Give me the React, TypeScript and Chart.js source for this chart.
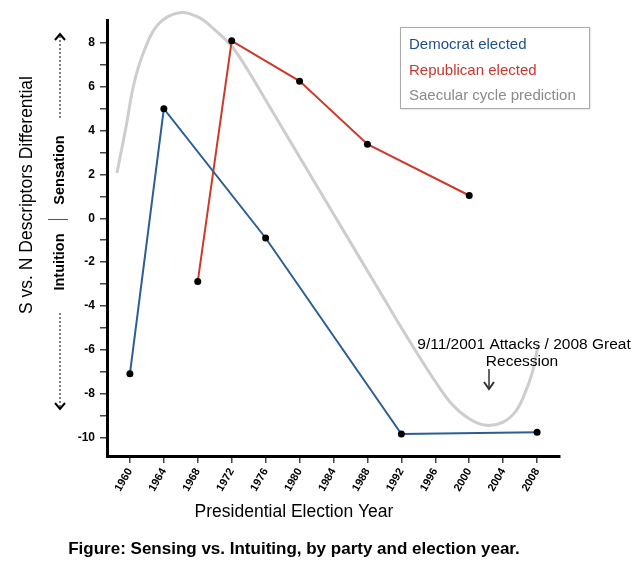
import React, { useEffect, useRef } from "react";
import { Chart, registerables } from "chart.js";

Chart.register(...registerables);

const demYears = [1960, 1964, 1976, 1992, 2008];
const demValues = [-7.1, 5.0, -0.9, -9.85, -9.77];
const repYears = [1968, 1972, 1980, 1988, 2000];
const repValues = [-2.88, 8.1, 6.26, 3.38, 1.04];
const cycleYears = [1958.47, 1959.53, 1960.47, 1961.65, 1963.29, 1965.65, 1968, 1970, 1972, 1974, 1976, 1978, 1980, 1982, 1984, 1986, 1988, 1990, 1992, 1994, 1996, 1998, 2000, 2002, 2004, 2005.5, 2006.5, 2007.5, 2008.12];
const cycleValues = [2.07, 4.14, 6.13, 7.61, 8.83, 9.37, 9.19, 8.6, 7.85, 6.7, 5.4, 4.1, 2.8, 1.5, 0.2, -1.1, -2.4, -3.7, -5.0, -6.25, -7.45, -8.5, -9.15, -9.45, -9.3, -8.8, -8.05, -6.95, -5.77];
const xTickYears = [1960, 1964, 1968, 1972, 1976, 1980, 1984, 1988, 1992, 1996, 2000, 2004, 2008];
const yTickValues = [-10, -9, -8, -7, -6, -5, -4, -3, -2, -1, 0, 1, 2, 3, 4, 5, 6, 7, 8];

const DEM = "#2c5e94";
const REP = "#cc3a2c";
const CYC = "#cdcdcd";
const FONT = "'Liberation Sans', Arial, sans-serif";

function arrow(ctx: CanvasRenderingContext2D, x: number, y1: number, y2: number, dashed: boolean) {
  ctx.save();
  ctx.strokeStyle = "#000";
  ctx.lineWidth = 1;
  if (dashed) ctx.setLineDash([2, 2]);
  ctx.beginPath();
  ctx.moveTo(x, y1);
  ctx.lineTo(x, y2);
  ctx.stroke();
  ctx.setLineDash([]);
  ctx.lineWidth = 2;
  const d = y2 > y1 ? -1 : 1;
  ctx.beginPath();
  ctx.moveTo(x - 5, y2 + d * 6);
  ctx.lineTo(x, y2);
  ctx.lineTo(x + 5, y2 + d * 6);
  ctx.stroke();
  ctx.restore();
}

function vText(ctx: CanvasRenderingContext2D, text: string, x: number, y: number, font: string) {
  ctx.save();
  ctx.translate(x, y);
  ctx.rotate(-Math.PI / 2);
  ctx.font = font;
  ctx.fillText(text, 0, 0);
  ctx.restore();
}

const textPlugin = {
  id: "texts",
  afterDraw(chart: any) {
    const ctx: CanvasRenderingContext2D = chart.ctx;
    ctx.save();
    ctx.fillStyle = "#000";
    ctx.textBaseline = "middle";
    ctx.textAlign = "center";
    vText(ctx, "S vs. N Descriptors Differential", 27, 195, `17.5px ${FONT}`);
    vText(ctx, "Sensation", 60, 170, `bold 14.5px ${FONT}`);
    vText(ctx, "Intuition", 60, 262, `bold 14.5px ${FONT}`);
    ctx.strokeStyle = "#555";
    ctx.lineWidth = 1;
    ctx.beginPath();
    ctx.moveTo(48, 219.5);
    ctx.lineTo(68, 219.5);
    ctx.stroke();
    arrow(ctx, 60, 118, 34, true);
    arrow(ctx, 60, 313, 409, true);
    ctx.font = `17.5px ${FONT}`;
    ctx.fillText("Presidential Election Year", 294, 512);
    ctx.font = `bold 17px ${FONT}`;
    ctx.fillText("Figure: Sensing vs. Intuiting, by party and election year.", 294, 549);
    ctx.font = `15.5px ${FONT}`;
    ctx.fillText("9/11/2001 Attacks / 2008 Great", 524, 345);
    ctx.fillText("Recession", 522, 362);
    ctx.save();
    ctx.strokeStyle = "#333";
    ctx.lineWidth = 1.5;
    ctx.beginPath();
    ctx.moveTo(489, 369);
    ctx.lineTo(489, 389);
    ctx.stroke();
    ctx.lineWidth = 2;
    ctx.beginPath();
    ctx.moveTo(484, 382);
    ctx.lineTo(489, 389);
    ctx.lineTo(494, 382);
    ctx.stroke();
    ctx.restore();
    // Legend
    ctx.save();
    ctx.shadowColor = "rgba(0,0,0,0.25)";
    ctx.shadowBlur = 2;
    ctx.shadowOffsetX = 1;
    ctx.shadowOffsetY = 1;
    ctx.fillStyle = "#fff";
    ctx.fillRect(400, 27, 189, 81);
    ctx.restore();
    ctx.strokeStyle = "#aaa";
    ctx.lineWidth = 1;
    ctx.strokeRect(400.5, 27.5, 189, 81);
    ctx.textAlign = "left";
    ctx.font = `15px ${FONT}`;
    const ys = [45, 71, 96];
    chart.data.datasets.forEach((ds: any, i: number) => {
      ctx.fillStyle = ds.legendColor;
      ctx.fillText(ds.label, 409, ys[i]);
    });
    ctx.restore();
  },
};

export default function App() {
  const ref = useRef<HTMLCanvasElement>(null);
  useEffect(() => {
    if (!ref.current) return;
    const chart = new Chart(ref.current, {
      type: "line",
      data: {
        datasets: [
          {
            label: "Democrat elected",
            legendColor: "#1f4f8a",
            data: demYears.map((x, i) => ({ x, y: demValues[i] })),
            borderColor: DEM,
            borderWidth: 2,
            pointRadius: 3.5,
            pointBackgroundColor: "#000",
            pointBorderColor: "#000",
            pointBorderWidth: 0,
            tension: 0,
            clip: false,
            order: 1,
          } as any,
          {
            label: "Republican elected",
            legendColor: "#c8372d",
            data: repYears.map((x, i) => ({ x, y: repValues[i] })),
            borderColor: REP,
            borderWidth: 2,
            pointRadius: 3.5,
            pointBackgroundColor: "#000",
            pointBorderColor: "#000",
            pointBorderWidth: 0,
            tension: 0,
            clip: false,
            order: 1,
          } as any,
          {
            label: "Saecular cycle prediction",
            legendColor: "#8a8a8a",
            data: cycleYears.map((x, i) => ({ x, y: cycleValues[i] })),
            borderColor: CYC,
            borderWidth: 3,
            pointRadius: 0,
            tension: 0.4,
            clip: false,
            order: 3,
          } as any,
        ],
      },
      options: {
        animation: false,
        responsive: false,
        maintainAspectRatio: false,
        layout: { padding: { left: 67, top: 20, right: 79, bottom: 66 } },
        plugins: { legend: { display: false }, tooltip: { enabled: false } },
        scales: {
          x: {
            type: "linear",
            min: 1957.3,
            max: 2010.7,
            afterBuildTicks: (axis: any) => {
              axis.ticks = xTickYears.map((v) => ({ value: v }));
            },
            afterFit: (axis: any) => {
              axis.height = 50;
            },
            ticks: {
              color: "#000",
              font: { family: FONT, size: 11, weight: "bold" },
              maxRotation: 60,
              minRotation: 60,
              padding: 3,
              autoSkip: false,
              callback: (v: any) => String(v),
            },
            grid: { drawOnChartArea: false, drawTicks: true, tickLength: 7, color: "#444", lineWidth: 1.5 },
            border: { display: true, color: "#000", width: 3 },
          },
          y: {
            type: "linear",
            min: -10.85,
            max: 9.05,
            afterBuildTicks: (axis: any) => {
              axis.ticks = yTickValues.map((v) => ({ value: v }));
            },
            afterFit: (axis: any) => {
              axis.width = 40;
            },
            ticks: {
              color: "#000",
              font: { family: FONT, size: 12, weight: "bold" },
              padding: 5,
              autoSkip: false,
              callback: (v: any) => (Math.round(v) % 2 === 0 ? String(v) : ""),
            },
            grid: { drawOnChartArea: false, drawTicks: true, tickLength: 7, color: "#444", lineWidth: 1.5 },
            border: { display: true, color: "#000", width: 3 },
          },
        },
      },
      plugins: [textPlugin],
    } as any);
    return () => chart.destroy();
  }, []);
  return (
    <div style={{ position: "fixed", left: 0, top: 0, width: 639, height: 572, background: "#fff" }}>
      <canvas ref={ref} width={639} height={572} style={{ width: 639, height: 572, display: "block" }} />
    </div>
  );
}
